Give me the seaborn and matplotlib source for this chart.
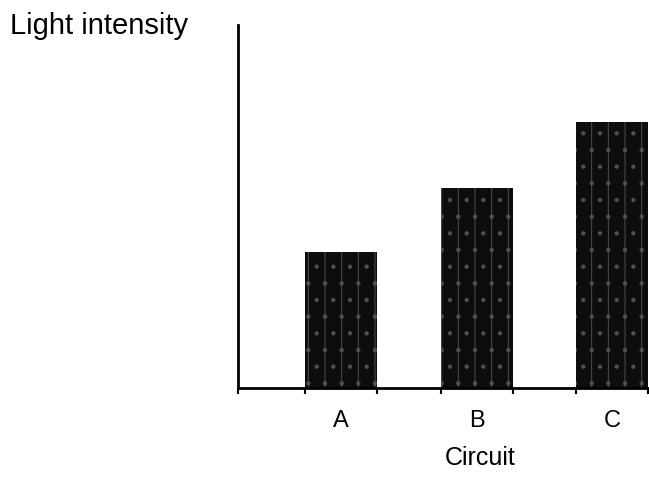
import numpy as np
import pandas as pd
import matplotlib.pyplot as plt
import seaborn as sns

# values (arbitrary units, no scale printed)
circuits = ["A", "B", "C"]
intensity = [2.05, 3.0, 4.0]

sns.set_style("white")
plt.rcParams["font.family"] = ["Liberation Sans", "DejaVu Sans"]
plt.rcParams["hatch.linewidth"] = 0.7
plt.rcParams["xtick.bottom"] = True

df = pd.DataFrame({"Circuit": circuits, "Light intensity": intensity})

fig = plt.figure(figsize=(6.49, 4.79), dpi=100)
ax = fig.add_axes([0.367, 0.19, 0.633, 0.758])

bw = 0.53
sns.barplot(data=df, x="Circuit", y="Light intensity", color="#0d0d0d",
            width=bw, saturation=1, ax=ax)
for p in ax.patches:
    p.set_edgecolor("#505050")
    p.set_linewidth(0)
    p.set_hatch("|.")

ax.set_xlim(-0.755, 2.27)
ax.set_ylim(0, 5.46)

for side in ["top", "right"]:
    ax.spines[side].set_visible(False)
for side in ["left", "bottom"]:
    ax.spines[side].set_color("black")
    ax.spines[side].set_linewidth(2)

ax.set_yticks([])
ax.set_ylabel("")
ax.set_xlabel("Circuit", fontsize=18, color="black")
ax.xaxis.set_label_coords(0.59, -0.193)
ax.xaxis.label.set_va("center")
ax.tick_params(axis="x", which="major", length=0, labelsize=17, pad=16, colors="black")
edges = [-0.755] + [i + s * bw / 2 for i in range(len(circuits)) for s in (-1, 1)]
ax.set_xticks(edges, minor=True)
ax.tick_params(axis="x", which="minor", bottom=True, length=4.5, width=1.5,
               direction="out", color="black")

fig.text(0.015, 0.945, "Light intensity", fontsize=21, ha="left", va="center",
         color="black")

fig.savefig("out.png", dpi=100)
